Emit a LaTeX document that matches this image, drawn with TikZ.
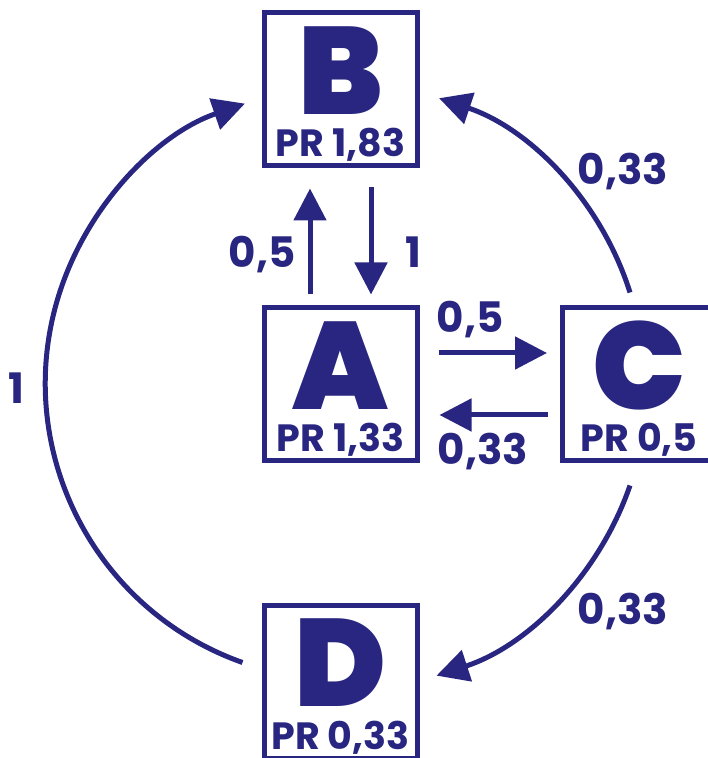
\documentclass[tikz,border=0pt]{standalone}
\usepackage{fontspec}
\setmainfont{Poppins}
\newfontfamily\heavyfont{Poppins}[UprightFont={* Black}]
\usetikzlibrary{arrows.meta}
\definecolor{prblue}{RGB}{40,38,128}

\begin{document}
\begin{tikzpicture}[x=1pt,y=1pt]

    % Graph style
    \tikzset{
        page/.style={draw=prblue, line width=5pt, minimum width=153pt, minimum height=153pt, inner sep=0pt},
        letter/.style={text=prblue, font=\heavyfont\fontsize{124}{124}\selectfont, anchor=base, inner sep=0pt},
        rank/.style={text=prblue, font=\bfseries\fontsize{38}{38}\selectfont, anchor=base, inner sep=0pt},
        weight/.style={text=prblue, font=\bfseries\fontsize{42}{42}\selectfont, anchor=base, inner sep=0pt},
        link/.style={draw=prblue, line width=5pt, -{Triangle[length=32pt,width=32pt]}}
    }

    \useasboundingbox (0,0) rectangle (708,758);

    % Pages
    \node[page] (B) at (340.5,668.5){};
    \node[page] (A) at (340.5,373.5){};
    \node[page] (C) at (639,373.5){};
    \node[page] (D) at (340.5,76){};

    \node[letter] (B-name) at ([yshift=-25pt]B.center){B};
    \node[rank] (B-pr) at ([yshift=-67pt]B.center){PR 1,83};
    \node[letter] (A-name) at ([yshift=-25pt]A.center){A};
    \node[rank] (A-pr) at ([yshift=-67pt]A.center){PR 1,33};
    \node[letter] (C-name) at ([yshift=-25pt]C.center){C};
    \node[rank] (C-pr) at ([yshift=-67pt]C.center){PR 0,5};
    \node[letter] (D-name) at ([yshift=-25pt]D.center){D};
    \node[rank] (D-pr) at ([yshift=-67pt]D.center){PR 0,33};

    % Links between A and B, A and C
    \draw[link, shorten <=11pt, shorten >=20pt] ([xshift=-30.5pt]A.north) -- ([xshift=-30.5pt]B.south);
    \draw[link, shorten <=19pt, shorten >=11pt] ([xshift=30.5pt]B.south) -- ([xshift=30.5pt]A.north);
    \draw[link, shorten <=19pt, shorten >=13pt] ([yshift=31.5pt]A.east) -- ([yshift=31.5pt]C.west);
    \draw[link, shorten <=12pt, shorten >=20pt] ([yshift=-30.5pt]C.west) -- ([yshift=-30.5pt]A.east);

    % Round links
    \draw[link] (D.west) ++(-19pt,19.5pt) arc[start angle=250.5, end angle=109, radius=296pt];
    \draw[link] (C.north) ++(-9pt,13pt) arc[start angle=17.5, end angle=71.5, radius=300pt];
    \draw[link] (C.south) ++(-9pt,-22pt) arc[start angle=-19, end angle=-72, radius=304pt];

    % Weights
    \node[weight] (w-AB) at (262,490){0,5};
    \node[weight] (w-BA) at (413,490){1};
    \node[weight] (w-AC) at (470,425){0,5};
    \node[weight] (w-CA) at (483,293){0,33};
    \node[weight] (w-DB) at (16,354){1};
    \node[weight] (w-CB) at (623,573){0,33};
    \node[weight] (w-CD) at (623,133){0,33};
\end{tikzpicture}
\end{document}
